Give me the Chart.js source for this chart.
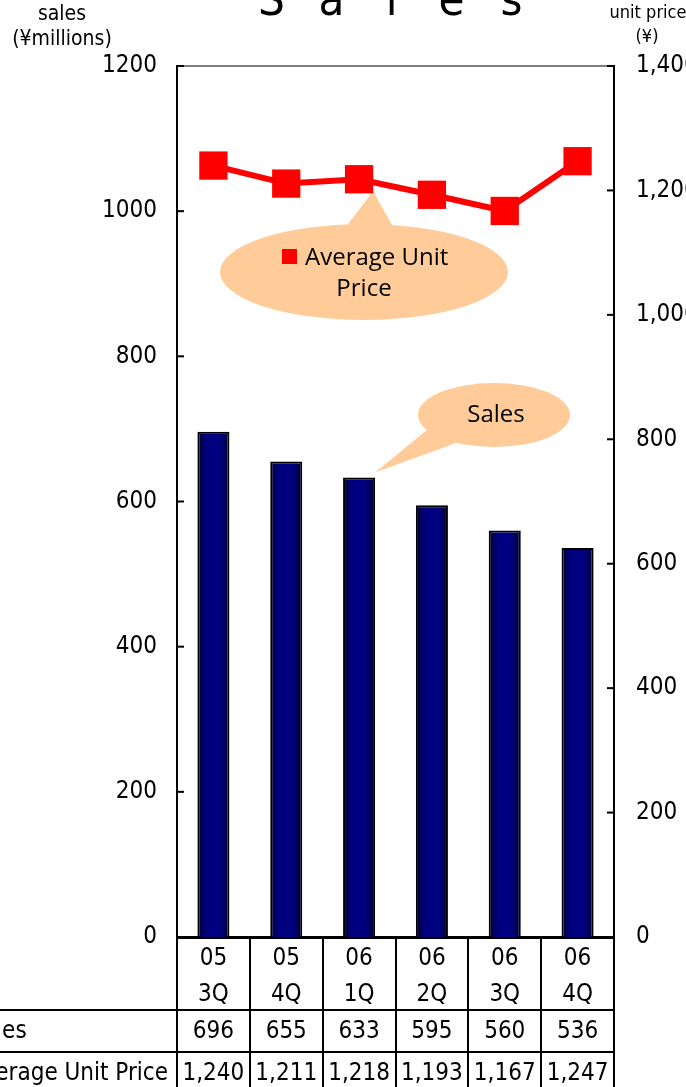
<!DOCTYPE html>
<html><head><meta charset="utf-8">
<script src="https://cdn.jsdelivr.net/npm/chart.js@4/dist/chart.umd.min.js"></script>
<style>html,body{margin:0;padding:0;background:#fff;overflow:hidden}#wrap{width:686px;height:1087px;position:relative}</style>
</head><body><div id="wrap"><canvas id="c"></canvas></div>
<script>
// ---- data ----
const categories = [['05','3Q'],['05','4Q'],['06','1Q'],['06','2Q'],['06','3Q'],['06','4Q']];
const salesValues = [696, 655, 633, 595, 560, 536];
const unitPriceValues = [1240, 1211, 1218, 1193, 1167, 1247];
const salesAxisRange = [0, 1200];
const priceAxisRange = [0, 1400];
const tickStep = 200;
const tableRowLabels = ['Sales', 'Average Unit Price'];
const titleLetters = ['S','a','l','e','s'];
const leftAxisTitle = ['sales', '(¥millions)'];
const rightAxisTitle = ['unit price', '(¥)'];
const calloutPriceText = ['Average Unit', 'Price'];
const calloutSalesText = 'Sales';

const COND = "'DejaVu Sans Condensed', 'DejaVu Sans', sans-serif";
const SANS = "'Open Sans', 'DejaVu Sans', sans-serif";
const fmt = v => Number(v).toLocaleString('en-US');

const decor = {
  id: 'decor',
  beforeDatasetsDraw(chart) {
    const ctx = chart.ctx, a = chart.chartArea;
    const y = chart.scales.y, y1 = chart.scales.y1, x = chart.scales.x;
    ctx.save();
    ctx.strokeStyle = '#808080'; ctx.lineWidth = 2;
    ctx.beginPath(); ctx.moveTo(a.left, a.top); ctx.lineTo(a.right, a.top); ctx.stroke();
    ctx.strokeStyle = '#000'; ctx.lineWidth = 2;
    y.ticks.forEach(t => { const p = y.getPixelForValue(t.value); ctx.beginPath(); ctx.moveTo(a.left, p); ctx.lineTo(a.left + 7, p); ctx.stroke(); });
    y1.ticks.forEach(t => { const p = y1.getPixelForValue(t.value); ctx.beginPath(); ctx.moveTo(a.right - 7, p); ctx.lineTo(a.right, p); ctx.stroke(); });

    const fill = '#FFCC99';
    const tipX = x.getPixelForValue(2) + 14, tipY = y1.getPixelForValue(unitPriceValues[2]) + 12;
    const c1x = 364, c1y = 272;
    ctx.fillStyle = fill;
    ctx.beginPath(); ctx.ellipse(c1x, c1y, 144, 48, 0, 0, Math.PI * 2); ctx.fill();
    ctx.beginPath(); ctx.moveTo(c1x - 22, c1y - 40); ctx.lineTo(tipX, tipY); ctx.lineTo(c1x + 32, c1y - 40); ctx.closePath(); ctx.fill();
    ctx.fillStyle = '#FF0000'; ctx.fillRect(282, 249, 15, 15);
    ctx.fillStyle = '#000'; ctx.font = '24px ' + SANS; ctx.textBaseline = 'alphabetic';
    ctx.textAlign = 'left'; ctx.fillText(calloutPriceText[0], 305, 265);
    ctx.textAlign = 'center'; ctx.fillText(calloutPriceText[1], c1x, 296);

    const bar = chart.getDatasetMeta(0).data[2];
    const t2x = bar.x + bar.width / 2, t2y = bar.y - 5;
    const c2x = 494, c2y = 415;
    ctx.fillStyle = fill;
    ctx.beginPath(); ctx.ellipse(c2x, c2y, 76, 32, 0, 0, Math.PI * 2); ctx.fill();
    ctx.beginPath(); ctx.moveTo(c2x - 66, c2y + 14); ctx.lineTo(t2x, t2y); ctx.lineTo(c2x - 38, c2y + 28); ctx.closePath(); ctx.fill();
    ctx.fillStyle = '#000'; ctx.textAlign = 'center'; ctx.textBaseline = 'middle';
    ctx.font = '24px ' + SANS; ctx.fillText(calloutSalesText, c2x + 2, c2y);
    ctx.restore();
  },
  afterDraw(chart) {
    const ctx = chart.ctx, a = chart.chartArea, H = chart.height;
    const n = categories.length, cw = (a.right - a.left) / n;
    const r1 = a.bottom + 73, r2 = a.bottom + 115;
    ctx.save();
    ctx.strokeStyle = '#000'; ctx.lineWidth = 2;
    for (let i = 0; i <= n; i++) {
      const ex = Math.round(a.left + i * cw);
      ctx.beginPath(); ctx.moveTo(ex, a.bottom); ctx.lineTo(ex, H); ctx.stroke();
    }
    [r1, r2].forEach(ry => { ctx.beginPath(); ctx.moveTo(0, ry); ctx.lineTo(a.right, ry); ctx.stroke(); });
    ctx.fillStyle = '#000'; ctx.font = '24px ' + COND; ctx.textBaseline = 'middle';
    ctx.textAlign = 'center';
    for (let i = 0; i < n; i++) {
      const cx = chart.scales.x.getPixelForValue(i);
      ctx.fillText(String(salesValues[i]), cx, r1 + 22);
      ctx.fillText(fmt(unitPriceValues[i]), cx, r2 + 22);
    }
    const lx = 168 - ctx.measureText(tableRowLabels[1]).width;
    ctx.textAlign = 'left';
    ctx.fillText(tableRowLabels[0], lx, r1 + 22);
    ctx.fillText(tableRowLabels[1], lx, r2 + 22);

    ctx.font = '47px ' + COND; ctx.textAlign = 'center'; ctx.textBaseline = 'alphabetic';
    const tc = (a.left + a.right) / 2 - 4;
    titleLetters.forEach((ch, i) => ctx.fillText(ch, tc + (i - 2) * 60, 15));

    ctx.font = '21px ' + COND; ctx.textBaseline = 'middle';
    ctx.fillText(leftAxisTitle[0], 62, 15);
    ctx.fillText(leftAxisTitle[1], 62, 40);
    ctx.font = '18px ' + COND;
    ctx.fillText(rightAxisTitle[0], 648, 13);
    ctx.fillText(rightAxisTitle[1], 647, 37);
    ctx.restore();
  }
};

function barFill(c) {
  const ch = c.chart;
  if (!ch.chartArea || !ch.scales.x) return '#000080';
  const cx = ch.scales.x.getPixelForValue(c.dataIndex);
  const g = ch.ctx.createLinearGradient(cx - 16, 0, cx + 16, 0);
  g.addColorStop(0, '#000033'); g.addColorStop(0.3, '#000080'); g.addColorStop(0.7, '#000080'); g.addColorStop(1, '#000033');
  return g;
}

new Chart(document.getElementById('c'), {
  data: {
    labels: categories,
    datasets: [
      { type: 'bar', label: 'Sales', data: salesValues, yAxisID: 'y', order: 2,
        backgroundColor: barFill, borderColor: '#000', borderWidth: 2,
        categoryPercentage: 1, barPercentage: 0.44 },
      { type: 'line', label: 'Average Unit Price', data: unitPriceValues, yAxisID: 'y1', order: 1,
        borderColor: '#FF0000', borderWidth: 6, tension: 0,
        pointStyle: 'rect', pointRadius: 20, pointHoverRadius: 20,
        pointBackgroundColor: '#FF0000', pointBorderColor: '#FF0000', pointBorderWidth: 0 }
    ]
  },
  options: {
    responsive: true, maintainAspectRatio: false, animation: false, devicePixelRatio: 1,
    layout: { padding: { top: 66, left: 0, right: 0, bottom: 0 } },
    plugins: { legend: { display: false }, title: { display: false }, tooltip: { enabled: false } },
    scales: {
      x: {
        offset: true,
        grid: { display: false, drawTicks: false },
        border: { display: true, color: '#000', width: 3 },
        ticks: { color: '#000', font: { family: COND, size: 24, lineHeight: 1.48 }, padding: 4, maxRotation: 0, autoSkip: false },
        afterFit: s => { s.height = 150; }
      },
      y: {
        position: 'left', min: salesAxisRange[0], max: salesAxisRange[1],
        grid: { display: false, drawTicks: false },
        border: { display: true, color: '#000', width: 2 },
        ticks: { stepSize: tickStep, color: '#000', font: { family: COND, size: 24 }, padding: 20, callback: v => String(v) },
        afterFit: s => { s.width = 177; }
      },
      y1: {
        position: 'right', min: priceAxisRange[0], max: priceAxisRange[1],
        grid: { display: false, drawTicks: false },
        border: { display: true, color: '#000', width: 2 },
        ticks: { stepSize: tickStep, color: '#000', font: { family: COND, size: 24 }, padding: 22, callback: v => fmt(v) },
        afterFit: s => { s.width = 72; }
      }
    }
  },
  plugins: [decor]
});
</script>
</body></html>
